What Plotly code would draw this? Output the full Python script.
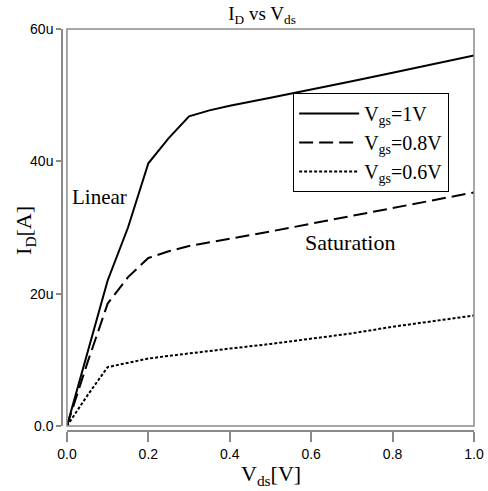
import plotly.graph_objects as go

# Drain-source voltage sweep (V)
vds = [0.0, 0.05, 0.1, 0.15, 0.2, 0.25, 0.3, 0.35, 0.4, 0.5, 0.6, 0.7, 0.8, 0.9, 1.0]

# Drain current for each gate voltage (µA)
id_vgs_1v0 = [0.0, 11.0, 22.0, 30.0, 39.7, 43.5, 46.8, 47.7, 48.4, 49.6, 50.8, 52.1, 53.4, 54.7, 56.0]
id_vgs_0v8 = [0.0, 9.5, 18.5, 22.5, 25.4, 26.4, 27.2, 27.8, 28.3, 29.4, 30.6, 31.8, 33.0, 34.1, 35.3]
id_vgs_0v6 = [0.0, 4.6, 8.9, 9.6, 10.2, 10.6, 11.0, 11.3, 11.7, 12.4, 13.2, 14.0, 15.0, 15.9, 16.7]

series_names = ["V<sub>gs</sub>=1V", "V<sub>gs</sub>=0.8V", "V<sub>gs</sub>=0.6V"]

x_ticks = [0.0, 0.2, 0.4, 0.6, 0.8, 1.0]
x_tick_labels = ["0.0", "0.2", "0.4", "0.6", "0.8", "1.0"]
y_ticks = [0.0, 20e-6, 40e-6, 60e-6]
y_tick_labels = ["0.0", "20u", "40u", "60u"]

SERIF = "Liberation Serif, Times New Roman, serif"
SANS = "Liberation Sans, Arial, sans-serif"
AXIS_GRAY = "#8a8a8a"

styles = [
    dict(color="black", width=2, dash="solid"),
    dict(color="black", width=2, dash="14px,6px"),
    dict(color="black", width=2, dash="3px,2px"),
]

fig = go.Figure()
for name, ua, st in zip(series_names, [id_vgs_1v0, id_vgs_0v8, id_vgs_0v6], styles):
    fig.add_trace(go.Scatter(
        x=vds, y=[v * 1e-6 for v in ua], mode="lines", name=name, line=st,
    ))

# Region labels
fig.add_annotation(x=0.081, y=34.6e-6, text="Linear", showarrow=False,
                   font=dict(family=SERIF, size=21, color="black"))
fig.add_annotation(x=0.695, y=27.7e-6, text="Saturation", showarrow=False,
                   font=dict(family=SERIF, size=22, color="black"))

# Axis titles
fig.add_annotation(xref="paper", yref="paper", x=0.507, y=-0.11, yanchor="middle",
                   text="V<sub>ds</sub>[V]", showarrow=False,
                   font=dict(family=SERIF, size=22, color="black"))
fig.add_annotation(xref="paper", yref="paper", x=-0.09, y=0.50, textangle=-90,
                   xanchor="center", yanchor="middle",
                   text="I<sub>D</sub>[A]", showarrow=False,
                   font=dict(family=SERIF, size=22, color="black"))

# Frame around the data area
fig.add_shape(type="rect", xref="x domain", yref="y domain", x0=0, x1=1, y0=0, y1=1,
              line=dict(color=AXIS_GRAY, width=1.5), layer="above")

fig.update_layout(
    width=488, height=491,
    margin=dict(l=62, r=14, t=29, b=60, autoexpand=False),
    paper_bgcolor="white", plot_bgcolor="white",
    title=dict(text="I<sub>D</sub> vs V<sub>ds</sub>", x=0.537, xanchor="center",
               y=0.972, yanchor="middle",
               font=dict(family=SERIF, size=19, color="black")),
    showlegend=True,
    legend=dict(x=0.561, y=0.841, xanchor="left", yanchor="top",
                bgcolor="white", bordercolor="black", borderwidth=1,
                font=dict(family=SERIF, size=20, color="black"),
                itemwidth=60, tracegroupgap=0),
    xaxis=dict(range=[0, 1.0], domain=[0.012, 1], anchor="free", position=0,
               automargin=False,
               tickvals=x_ticks, ticktext=x_tick_labels,
               showgrid=False, zeroline=False, showline=True, linecolor=AXIS_GRAY, linewidth=1.5,
               ticks="outside", ticklen=10, tickcolor=AXIS_GRAY, tickwidth=1.5,
               tickfont=dict(family=SANS, size=14, color="black")),
    yaxis=dict(range=[0, 60e-6], domain=[0.0124, 1], anchor="free", position=0,
               automargin=False,
               tickvals=y_ticks, ticktext=y_tick_labels,
               showgrid=False, zeroline=False, showline=True, linecolor=AXIS_GRAY, linewidth=1.5,
               ticks="outside", ticklen=5, tickcolor=AXIS_GRAY, tickwidth=1.5,
               tickfont=dict(family=SANS, size=14, color="black")),
)

fig.write_html("out.html")
